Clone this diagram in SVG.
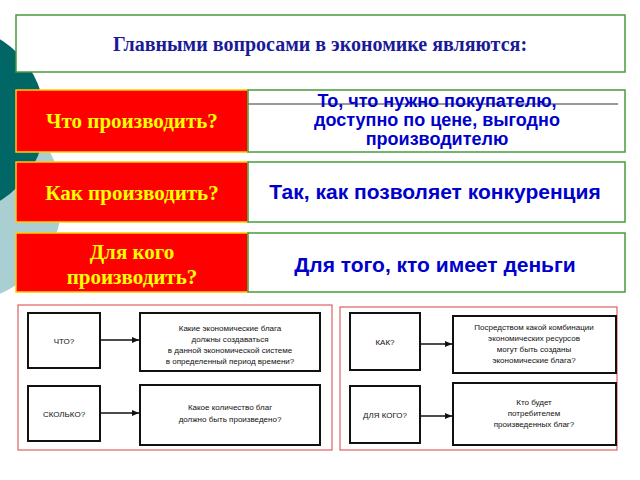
<svg xmlns="http://www.w3.org/2000/svg" width="640" height="480" viewBox="0 0 640 480">
<style>
.t{font-family:"Liberation Serif",serif;font-weight:bold;font-size:21px;fill:#ffff00;text-anchor:middle}
.a{font-family:"Liberation Sans",sans-serif;font-weight:bold;font-size:21px;fill:#0000cc;text-anchor:middle}
.red{fill:#ff0000;stroke:#ffcc00;stroke-width:1.5}
.wh{fill:#fff;stroke:#4a9a3a;stroke-width:1.5}
.b{fill:#fff;stroke:#111;stroke-width:2}
.s{font-family:"Liberation Sans",sans-serif;font-size:8px;fill:#111;text-anchor:middle}
.c{stroke:#111;stroke-width:1.5;marker-end:url(#ar)}
</style>
<defs><marker id="ar" markerWidth="8" markerHeight="8" refX="7" refY="4" orient="auto" markerUnits="userSpaceOnUse"><path d="M0,1 L7,4 L0,7z" fill="#111"/></marker></defs>
<rect width="640" height="480" fill="#fff"/>
<circle cx="-40" cy="200" r="102" fill="#a9cfd3"/>
<circle cx="-50" cy="120" r="95" fill="#006666"/>
<g id="title"><rect x="16" y="15" width="609" height="57" class="wh"/><text x="320" y="51" class="t" style="fill:#1a1a99;font-size:20px">Главными вопросами в экономике являются:</text></g>
<g id="q1"><rect x="16" y="90" width="232" height="62" class="red"/><text x="132" y="128" class="t">Что производить?</text></g>
<g id="a1"><rect x="248" y="90" width="377" height="62" class="wh"/><line x1="248" y1="104" x2="618" y2="104" stroke="#777" stroke-width="1.5"/><text class="a" y="107" style="font-size:18px"><tspan x="437">То, что нужно покупателю,</tspan><tspan x="437" dy="19">доступно по цене, выгодно</tspan><tspan x="437" dy="19">производителю</tspan></text></g>
<g id="q2"><rect x="16" y="162" width="232" height="60" class="red"/><text x="132" y="200" class="t">Как производить?</text></g>
<g id="a2"><rect x="248" y="162" width="377" height="60" class="wh"/><text x="435" y="199" class="a">Так, как позволяет конкуренция</text></g>
<g id="q3"><rect x="16" y="233" width="232" height="59" class="red"/><text class="t" y="259"><tspan x="132">Для кого</tspan><tspan x="132" dy="25">производить?</tspan></text></g>
<g id="a3"><rect x="248" y="233" width="377" height="59" class="wh"/><text x="435" y="272" class="a">Для того, кто имеет деньги</text></g>
<g id="panelL"><rect x="18" y="305" width="314" height="145" fill="#fff" stroke="#e06060" stroke-width="1.2"/>
<g id="n1"><rect x="28" y="313" width="72" height="55" class="b"/><text x="64" y="344" class="s">ЧТО?</text></g>
<g id="n2"><rect x="140" y="313" width="180" height="58" class="b"/><text class="s" y="331"><tspan x="230">Какие экономические блага</tspan><tspan x="230" dy="11">должны создаваться</tspan><tspan x="230" dy="11">в данной экономической системе</tspan><tspan x="230" dy="11">в определенный период времени?</tspan></text></g>
<g id="n3"><rect x="28" y="386" width="72" height="55" class="b"/><text x="64" y="417" class="s">СКОЛЬКО?</text></g>
<g id="n4"><rect x="140" y="385" width="180" height="60" class="b"/><text class="s" y="410"><tspan x="230">Какое количество благ</tspan><tspan x="230" dy="12">должно быть произведено?</tspan></text></g>
</g>
<g id="panelR"><rect x="340" y="307" width="277" height="143" fill="#fff" stroke="#e06060" stroke-width="1.2"/>
<g id="n5"><rect x="350" y="313" width="70" height="57" class="b"/><text x="385" y="345" class="s">КАК?</text></g>
<g id="n6"><rect x="453" y="316" width="163" height="57" class="b"/><text class="s" y="330"><tspan x="534">Посредством какой комбинации</tspan><tspan x="534" dy="11">экономических ресурсов</tspan><tspan x="534" dy="11">могут быть созданы</tspan><tspan x="534" dy="11">экономические блага?</tspan></text></g>
<g id="n7"><rect x="350" y="386" width="70" height="57" class="b"/><text x="385" y="418" class="s">ДЛЯ КОГО?</text></g>
<g id="n8"><rect x="453" y="383" width="163" height="62" class="b"/><text class="s" y="405"><tspan x="534">Кто будет</tspan><tspan x="534" dy="11">потребителем</tspan><tspan x="534" dy="11">произведенных благ?</tspan></text></g>
</g>
<g id="connectors">
<line x1="100" y1="340" x2="139" y2="340" class="c"/>
<line x1="100" y1="413" x2="139" y2="413" class="c"/>
<line x1="420" y1="344" x2="452" y2="344" class="c"/>
<line x1="420" y1="416" x2="452" y2="416" class="c"/>
</g>
</svg>
